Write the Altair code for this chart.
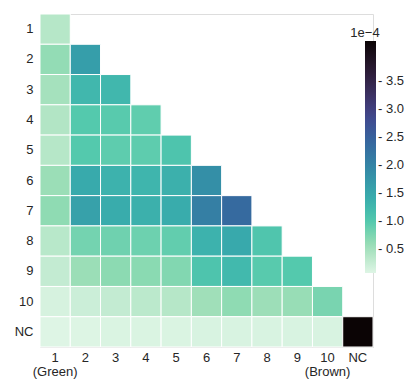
import altair as alt
import pandas as pd

# Category labels (rows and columns)
labels = ["1", "2", "3", "4", "5", "6", "7", "8", "9", "10", "NC"]

# Lower-triangular values, in units of 1e-4
row_1 = [0.37]
row_2 = [0.61, 1.63]
row_3 = [0.49, 1.25, 1.25]
row_4 = [0.40, 0.99, 0.97, 0.92]
row_5 = [0.37, 0.99, 0.93, 0.93, 1.07]
row_6 = [0.56, 1.45, 1.33, 1.29, 1.36, 1.85]
row_7 = [0.64, 1.59, 1.42, 1.36, 1.42, 2.07, 2.38]
row_8 = [0.35, 0.80, 0.83, 0.84, 0.91, 1.33, 1.47, 1.05]
row_9 = [0.27, 0.56, 0.66, 0.67, 0.72, 1.07, 1.23, 0.97, 0.99]
row_10 = [0.13, 0.21, 0.27, 0.33, 0.37, 0.53, 0.64, 0.55, 0.58, 0.77]
row_NC = [0.07, 0.08, 0.10, 0.10, 0.10, 0.115, 0.115, 0.115, 0.115, 0.115, 4.22]

rows = [row_1, row_2, row_3, row_4, row_5, row_6, row_7, row_8, row_9, row_10, row_NC]

# colorbar ticks
cbar_ticks = [0.5, 1.0, 1.5, 2.0, 2.5, 3.0, 3.5]

# mako colormap samples (position in 0..1 -> colour), used reversed (mako_r)
mako_pos = [0.000, 0.111, 0.143, 0.222, 0.286, 0.333, 0.429, 0.444,
            0.556, 0.571, 0.667, 0.714, 0.778, 0.857, 0.889, 1.000]
mako_col = ["#0B0405", "#28192F", "#2E1E3B", "#3B2F5E", "#413D7B", "#40498E", "#37659E", "#366A9F",
            "#348AA6", "#348FA7", "#38AAAC", "#40B7AD", "#54C9AD", "#8BDAB2", "#A0DFB9", "#DEF5E5"]

all_vals = [v for r in rows for v in r]
vmin, vmax = min(all_vals), max(all_vals)
# mako_r: low values -> light end
stops = [vmin + (1 - p) * (vmax - vmin) for p in reversed(mako_pos)]
range_cols = list(reversed(mako_col))

records = []
for i, r in enumerate(rows):
    for j, v in enumerate(r):
        records.append({"row": labels[i], "col": labels[j], "value": v})
df = pd.DataFrame(records)

FONT = "Liberation Sans"
TXT = "#262626"

x_label_expr = ("datum.value == '1' ? ['1', '(Green)'] : "
                "(datum.value == '10' ? ['10', '(Brown)'] : datum.value)")

chart = alt.Chart(df).mark_rect(stroke="white", strokeWidth=1).encode(
    x=alt.X("col:N", sort=labels, title=None,
            scale=alt.Scale(domain=labels, paddingInner=0, paddingOuter=0),
            axis=alt.Axis(orient="bottom", ticks=False, domain=False, labelAngle=0,
                          labelExpr=x_label_expr, labelPadding=4, labelLineHeight=14,
                          labelFont=FONT, labelFontSize=13, labelColor=TXT)),
    y=alt.Y("row:N", sort=labels, title=None,
            scale=alt.Scale(domain=labels, paddingInner=0, paddingOuter=0),
            axis=alt.Axis(ticks=False, domain=False, labelPadding=7,
                          labelFont=FONT, labelFontSize=13, labelColor=TXT)),
    color=alt.Color("value:Q",
                    scale=alt.Scale(domain=stops, range=range_cols, interpolate="rgb"),
                    legend=alt.Legend(orient="none", legendX=310, legendY=13,
                                      title="1e\u22124\u00a0\u00a0", titleFont=FONT, titleFontSize=13,
                                      titleFontWeight="normal", titleColor=TXT,
                                      titleAnchor="start", titleAlign="center", titlePadding=1,
                                      gradientLength=232, gradientThickness=11,
                                      gradientStrokeWidth=0,
                                      values=cbar_ticks,
                                      labelExpr="'- ' + format(datum.value, '.1f')",
                                      labelFont=FONT, labelFontSize=13, labelColor=TXT,
                                      labelOffset=2, labelOverlap=False)),
).properties(
    width=333, height=333,
    autosize=alt.AutoSizeParams(type="none"),
    padding={"left": 40, "top": 14, "right": 40, "bottom": 39},
).configure_view(stroke=None).configure(background="white")

chart.save("out.html", embed_options={"renderer": "svg", "actions": False})
